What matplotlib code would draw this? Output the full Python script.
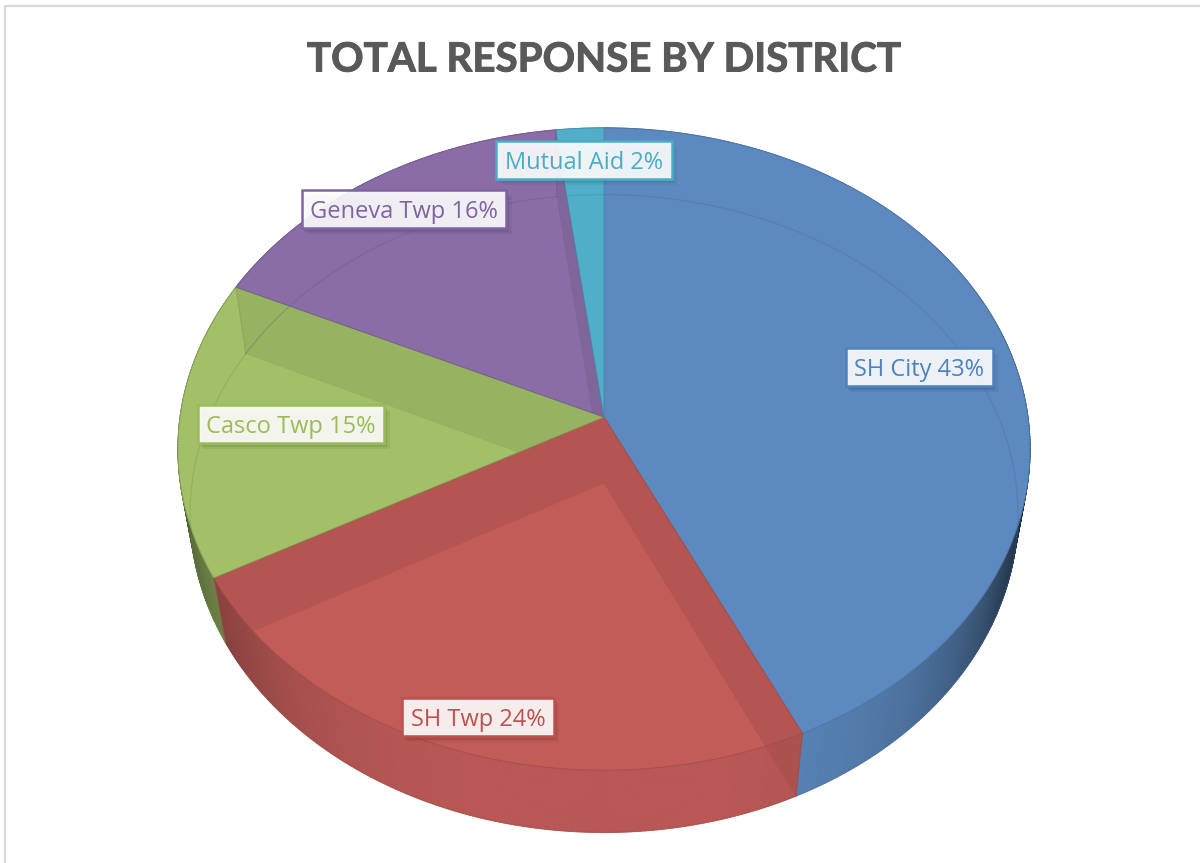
import matplotlib
matplotlib.use('Agg')
import matplotlib.pyplot as plt
import matplotlib.patheffects as pe
from matplotlib.collections import PolyCollection
from matplotlib.colors import to_rgb
from matplotlib.patches import Polygon, Rectangle
import numpy as np

districts = ['SH City', 'SH Twp', 'Casco Twp', 'Geneva Twp', 'Mutual Aid']
percent = [43, 24, 15, 16, 2]
face_colors = ['#5C8AC0', '#C25C59', '#A1C068', '#8A6DA7', '#50AEC8']
label_colors = ['#4F81BD', '#C0504D', '#9BBB59', '#8064A2', '#4BACC6']

# label centres in pixels
label_xy = [(919, 367), (478, 717), (291, 424), (404, 209), (584, 160)]

# perspective of the top and bottom discs (fitted on the picture)
CX = 604
TOP = dict(y0=417, A=424, B=318, k=0.0997)
BOT = dict(y0=483, A=412, B=316, k=0.0958)


def project(theta, disc, r=1.0):
    # theta in degrees, clockwise from 12 o'clock
    t = np.radians(theta)
    s, c = r * np.sin(t), r * np.cos(t)
    w = 1 + disc['k'] * c
    return CX + disc['A'] * s / w, disc['y0'] - disc['B'] * c / w


def shade(theta):
    # side wall gets dark towards left and right edge
    s = np.sin(np.radians(theta))
    if s > 0:
        return 1 - 0.72 * abs(s) ** 4
    return 1 - 0.48 * abs(s) ** 4


def darker(color, f):
    return tuple(v * f for v in to_rgb(color))


def slice_outline(a, b):
    # top sector, plus the side wall for slices at the front
    th = np.linspace(a, b, 200)
    xt, yt = project(th, TOP)
    if np.cos(np.radians((a + b) / 2)) < -0.1:
        xb, yb = project(th, BOT)
        return np.vstack([[CX, TOP['y0']], (xt[0], yt[0]), np.column_stack([xb, yb]), (xt[-1], yt[-1])])
    return np.vstack([[CX, TOP['y0']], np.column_stack([xt, yt])])


fig = plt.figure(figsize=(12, 8.63), dpi=100)
ax = fig.add_axes([0, 0, 1, 1])
ax.set_xlim(0, 1200)
ax.set_ylim(863, 0)
ax.axis('off')

# chart frame
ax.plot([5, 5, 1200], [863, 6, 6], color='#D9D9D9', lw=1.6, zorder=0)

edges = np.cumsum([0] + percent) / sum(percent) * 360

# outer side wall
for i, col in enumerate(face_colors):
    th = np.arange(edges[i], edges[i + 1] + 0.5, 0.5)
    quads = []
    cols = []
    for a, b in zip(th[:-1], th[1:]):
        x1, y1 = project(a, TOP)
        x2, y2 = project(b, TOP)
        x3, y3 = project(b, BOT)
        x4, y4 = project(a, BOT)
        quads.append([(x1, y1), (x2, y2), (x3, y3), (x4, y4)])
        cols.append(darker(col, 0.95 * shade((a + b) / 2)))
    ax.add_collection(PolyCollection(quads, facecolors=cols, edgecolors='face', linewidths=0.6, zorder=1))

# top faces
for i, col in enumerate(face_colors):
    th = np.linspace(edges[i], edges[i + 1], 200)
    x, y = project(th, TOP)
    pts = np.vstack([[CX, TOP['y0']], np.column_stack([x, y])])
    ax.add_patch(Polygon(pts, closed=True, fc=col, ec=darker(col, 0.85), lw=0.7, zorder=2))

# radial walls seen through the top, kept inside their own slice
for i, col in enumerate(face_colors):
    clip = Polygon(slice_outline(edges[i], edges[i + 1]), closed=True, transform=ax.transData)
    for a, visible in ((edges[i], np.sin(np.radians(edges[i])) > 1e-6),
                       (edges[i + 1], np.sin(np.radians(edges[i + 1])) < -1e-6)):
        if not visible:
            continue
        xt, yt = project(a, TOP)
        xb, yb = project(a, BOT)
        pts = [(CX, TOP['y0']), (xt, yt), (xb, yb), (CX, BOT['y0'])]
        wall = Polygon(pts, closed=True, fc=darker(col, 0.78), alpha=0.3, ec='none', zorder=3)
        ax.add_patch(wall)
        wall.set_clip_path(clip)
        ax.plot([xb, CX], [yb, BOT['y0']], color=darker(col, 0.8), lw=0.5, alpha=0.25, zorder=3,
                clip_path=clip)
        ax.plot([xt, xb], [yt, yb], color=darker(col, 0.8), lw=0.7, alpha=0.6, zorder=3)

# rim of the bottom disc, faint through the top
for i, col in enumerate(face_colors):
    th = np.linspace(edges[i], edges[i + 1], 200)
    x, y = project(th, BOT)
    ax.plot(x, y, color=darker(col, 0.75), lw=0.9, alpha=0.3, zorder=3)

# labels: box sized from the measured text
fig.canvas.draw()
renderer = fig.canvas.get_renderer()
for name, val, col, (lx, ly) in zip(districts, percent, label_colors, label_xy):
    t = ax.text(lx, ly + 3, f'{name} {val}%', color=col, fontsize=17, family='Open Sans',
                ha='center', va='center', zorder=7)
    w = t.get_window_extent(renderer).width + 17
    box = Rectangle((lx - w / 2, ly - 19), w, 38, fc=(1, 1, 1, 0.9), ec=col, lw=1.8, zorder=6)
    box.set_path_effects([
        pe.SimplePatchShadow(offset=(4, -4), shadow_rgbFace=darker(col, 0.6), alpha=0.12),
        pe.SimplePatchShadow(offset=(2, -3), shadow_rgbFace=darker(col, 0.6), alpha=0.22),
        pe.Normal()])
    ax.add_patch(box)

title = ax.text(604, 60, 'TOTAL RESPONSE BY DISTRICT', color='#595959', fontsize=29, family='Lato',
                fontweight='bold', ha='center', va='center', zorder=6)
title.set_path_effects([pe.withStroke(linewidth=0.7, foreground='#595959')])

fig.savefig('out.png', dpi=100)
